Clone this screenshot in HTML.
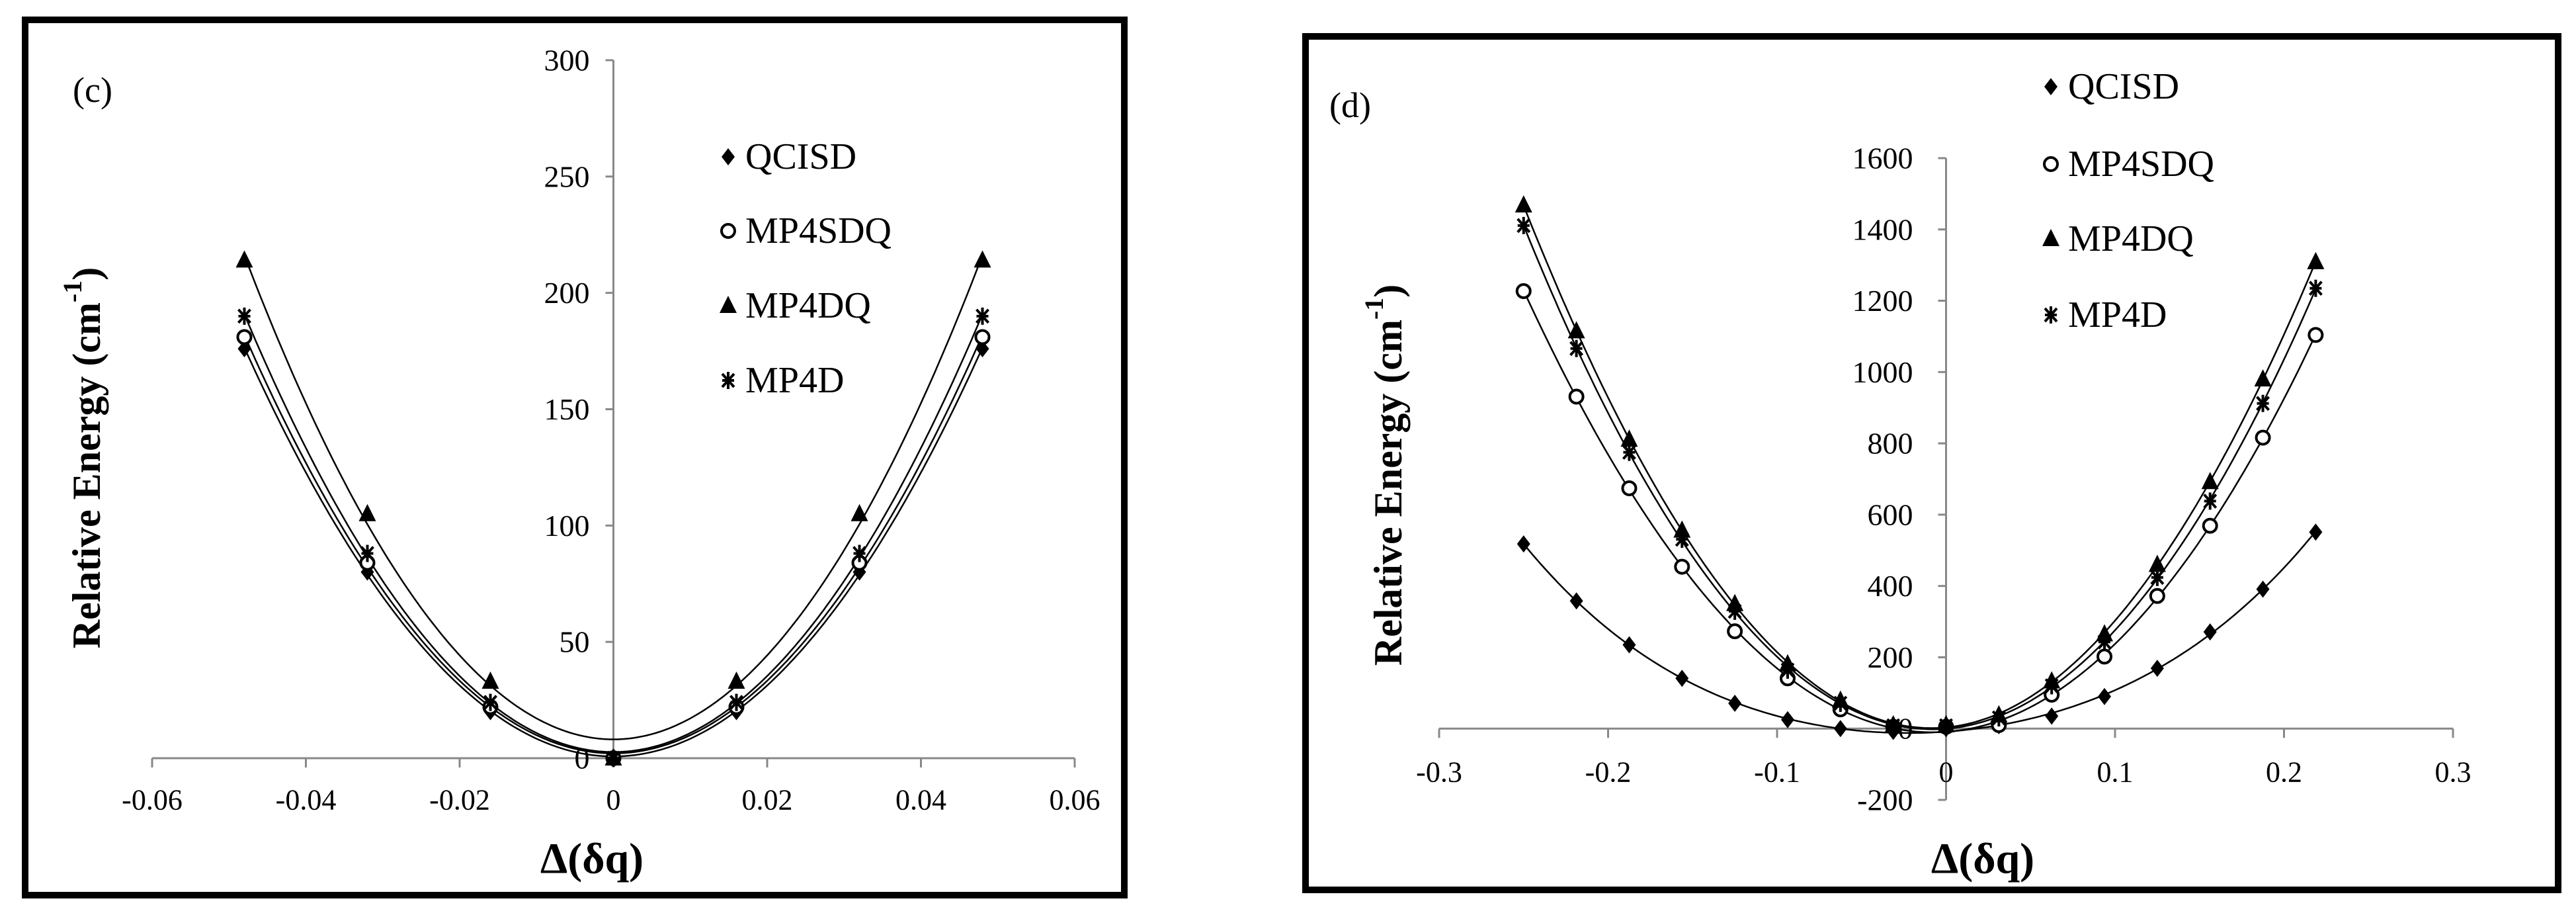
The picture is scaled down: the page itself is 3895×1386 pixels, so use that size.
<!DOCTYPE html>
<html><head><meta charset="utf-8"><style>
html,body{margin:0;padding:0;background:#fff;}
svg{display:block;font-family:"Liberation Serif",serif;}
</style></head><body>
<svg id="fig" width="3895" height="1386" viewBox="0 0 3895 1386" xmlns="http://www.w3.org/2000/svg">
<rect x="0" y="0" width="3895" height="1386" fill="#fff"/>
<rect x="38" y="30" width="1662" height="1323" fill="none" stroke="#000" stroke-width="10"/>
<rect x="1974" y="55" width="1894" height="1290" fill="none" stroke="#000" stroke-width="10"/>
<g id="pc"></g>
<g id="pd"></g>
</svg>
<script>
// Panel (c) data
const cX = [-0.048, -0.032, -0.016, 0, 0.016, 0.032, 0.048];
const cQCISD = [176, 80, 20, 0, 20, 80, 176];
const cMP4SDQ = [181, 84, 22, 0, 22, 84, 181];
const cMP4DQ = [214, 105, 33, 0, 33, 105, 214];
const cMP4D = [190, 88, 24, 0, 24, 88, 190];
const cXTicks = [-0.06, -0.04, -0.02, 0, 0.02, 0.04, 0.06];
const cXTickLabels = ["-0.06", "-0.04", "-0.02", "0", "0.02", "0.04", "0.06"];
const cYTicks = [0, 50, 100, 150, 200, 250, 300];
const cYTickLabels = ["0", "50", "100", "150", "200", "250", "300"];
// Panel (d) data
const dX = [-0.25, -0.21875, -0.1875, -0.15625, -0.125, -0.09375, -0.0625, -0.03125, 0, 0.03125, 0.0625, 0.09375, 0.125, 0.15625, 0.1875, 0.21875];
const dQCISD = [518, 358, 235, 141, 71, 25, 0, -8, 0, 8, 35, 90, 169, 271, 391, 551];
const dMP4SDQ = [1227, 931, 674, 454, 273, 141, 54, 5, 5, 10, 95, 202, 372, 569, 816, 1104];
const dMP4DQ = [1468, 1115, 811, 556, 350, 181, 79, 10, 10, 38, 133, 265, 460, 692, 980, 1309];
const dMP4D = [1411, 1066, 775, 531, 329, 164, 71, 8, 8, 30, 120, 243, 424, 638, 912, 1235];
const dXTicks = [-0.3, -0.2, -0.1, 0, 0.1, 0.2, 0.3];
const dXTickLabels = ["-0.3", "-0.2", "-0.1", "0", "0.1", "0.2", "0.3"];
const dYTicks = [-200, 0, 200, 400, 600, 800, 1000, 1200, 1400, 1600];
const dYTickLabels = ["-200", "0", "200", "400", "600", "800", "1000", "1200", "1400", "1600"];
const seriesNames = ["QCISD", "MP4SDQ", "MP4DQ", "MP4D"];
const markerTypes = ["diamond", "circle", "triangle", "star"];

const NS = "http://www.w3.org/2000/svg";
function mk(tag, attrs, parent){const e=document.createElementNS(NS,tag);for(const k in attrs)e.setAttribute(k,attrs[k]);parent.appendChild(e);return e;}

function polyfit(xs, ys, deg){
  const n=deg+1;const A=[];for(let i=0;i<n;i++){A.push(new Array(n+1).fill(0));}
  for(let k=0;k<xs.length;k++){for(let i=0;i<n;i++){for(let j=0;j<n;j++)A[i][j]+=Math.pow(xs[k],i+j);A[i][n]+=ys[k]*Math.pow(xs[k],i);}}
  for(let i=0;i<n;i++){let p=i;for(let r=i+1;r<n;r++)if(Math.abs(A[r][i])>Math.abs(A[p][i]))p=r;[A[i],A[p]]=[A[p],A[i]];
    for(let r=0;r<n;r++){if(r===i)continue;const f=A[r][i]/A[i][i];for(let c=i;c<=n;c++)A[r][c]-=f*A[i][c];}}
  return A.map((row,i)=>row[n]/row[i]);
}
function polyval(c,x){let s=0;for(let i=0;i<c.length;i++)s+=c[i]*Math.pow(x,i);return s;}

function marker(g, type, cx, cy){
  let m;
  if(type==="diamond"){m=mk("path",{d:`M${cx} ${cy-13}L${cx+10} ${cy}L${cx} ${cy+13}L${cx-10} ${cy}Z`,fill:"#000"},g);}
  else if(type==="circle"){m=mk("circle",{cx:cx,cy:cy,r:10,fill:"#fff",stroke:"#000","stroke-width":4},g);}
  else if(type==="triangle"){m=mk("path",{d:`M${cx} ${cy-15}L${cx+13} ${cy+11}L${cx-13} ${cy+11}Z`,fill:"#000"},g);}
  else {m=mk("path",{d:`M${cx-9} ${cy-10}L${cx+9} ${cy+10}M${cx+9} ${cy-10}L${cx-9} ${cy+10}M${cx} ${cy-13}L${cx} ${cy+13}M${cx-9} ${cy}L${cx+9} ${cy}`,stroke:"#000","stroke-width":4,fill:"none"},g);}
  return m;
}

function drawPanel(g, cfg){
  const sx=v=>cfg.x0+(v-cfg.xmin)/(cfg.xmax-cfg.xmin)*(cfg.x1-cfg.x0);
  const sy=v=>cfg.y0-(v-cfg.ymin)/(cfg.ymax-cfg.ymin)*(cfg.y0-cfg.y1);
  const ax=sx(0), ay=sy(0);
  const yl=mk("line",{x1:ax,y1:sy(cfg.ymin),x2:ax,y2:sy(cfg.ymax),stroke:"#888","stroke-width":3},g);
  
  
  const xl=mk("line",{x1:sx(cfg.xmin),y1:ay,x2:sx(cfg.xmax),y2:ay,stroke:"#888","stroke-width":3},g);
  
  
  cfg.xt.forEach((v,i)=>{
    mk("line",{x1:sx(v),y1:ay,x2:sx(v),y2:ay+14,stroke:"#888","stroke-width":3},g);
    const t=mk("text",{x:sx(v),y:cfg.xlabY,"font-size":44,"text-anchor":"middle","dominant-baseline":"central"},g);
    t.textContent=cfg.xtl[i];
    
    
  });
  cfg.yt.forEach((v,i)=>{
    mk("line",{x1:ax-12,y1:sy(v),x2:ax,y2:sy(v),stroke:"#888","stroke-width":3},g);
    const t=mk("text",{x:ax-cfg.ylabGap,y:sy(v),"font-size":46,"text-anchor":"end","dominant-baseline":"central"},g);
    t.textContent=cfg.ytl[i];
    
    
  });
  cfg.series.forEach((ys,si)=>{
    const c=polyfit(cfg.xs,ys,cfg.deg);
    let d="";const a=cfg.xs[0],b=cfg.xs[cfg.xs.length-1];
    for(let k=0;k<=200;k++){const x=a+(b-a)*k/200;d+=(k?"L":"M")+sx(x).toFixed(1)+" "+sy(polyval(c,x)).toFixed(1);}
    const p=mk("path",{d:d,fill:"none",stroke:"#000","stroke-width":2.5},g);
    
    
  });
  cfg.series.forEach((ys,si)=>{
    ys.forEach((v,k)=>{
      const m=marker(g,markerTypes[si],sx(cfg.xs[k]),sy(v));
      
      
    });
  });
  seriesNames.forEach((nm,si)=>{
    const y=cfg.legY[si];
    const m=marker(g,markerTypes[si],cfg.legX,y);
    
    
    const t=mk("text",{x:cfg.legX+26,y:y,"font-size":56,"dominant-baseline":"central"},g);
    t.textContent=nm;
    
    
  });
  const lab=mk("text",{x:cfg.labX,y:cfg.labY,"font-size":54,"dominant-baseline":"central"},g);
  lab.textContent=cfg.label;
  
  
  const yt=mk("text",{x:0,y:0,"font-size":60,"font-weight":"bold","text-anchor":"middle","dominant-baseline":"central",transform:`translate(${cfg.ytX},${cfg.ytY}) rotate(-90)`},g);
  yt.innerHTML='Relative Energy (cm<tspan dy="-22" font-size="40">-1</tspan><tspan dy="22">)</tspan>';
  
  
  const xt=mk("text",{x:cfg.xtX,y:cfg.xtY,"font-size":66,"font-weight":"bold","text-anchor":"middle","dominant-baseline":"central"},g);
  xt.textContent="Δ(δq)";
  
  
}

drawPanel(document.getElementById("pc"),{
  x0:230,x1:1625,xmin:-0.06,xmax:0.06,y0:1146,y1:91,ymin:0,ymax:300,
  xs:cX,series:[cQCISD,cMP4SDQ,cMP4DQ,cMP4D],deg:2,
  xt:cXTicks,xtl:cXTickLabels,yt:cYTicks,ytl:cYTickLabels,
  xlabY:1209,ylabGap:36,legX:1101,legY:[237,349,462,575],
  label:"(c)",labX:110,labY:136,ytX:131,ytY:692,xtX:895,xtY:1298
});
drawPanel(document.getElementById("pd"),{
  x0:2176,x1:3709,xmin:-0.3,xmax:0.3,y0:1209,y1:239,ymin:-200,ymax:1600,
  xs:dX,series:[dQCISD,dMP4SDQ,dMP4DQ,dMP4D],deg:4,
  xt:dXTicks,xtl:dXTickLabels,yt:dYTicks,ytl:dYTickLabels,
  xlabY:1167,ylabGap:50,legX:3101,legY:[131,248,361,476],
  label:"(d)",labX:2010,labY:159,ytX:2099,ytY:718,xtX:2998,xtY:1298
});
</script>
</body></html>
